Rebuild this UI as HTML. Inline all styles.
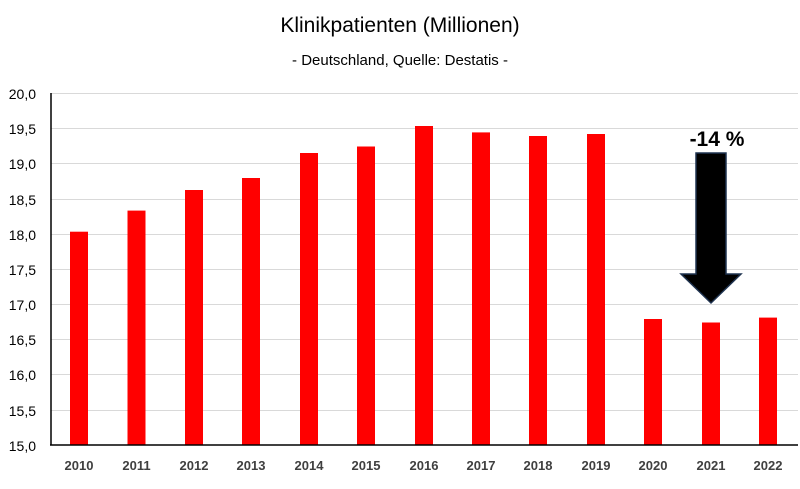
<!DOCTYPE html>
<html><head><meta charset="utf-8"><style>body{margin:0;background:#fff}</style></head>
<body>
<svg width="800" height="484" xmlns="http://www.w3.org/2000/svg" font-family="Liberation Sans, sans-serif">
<rect width="800" height="484" fill="#fff"/>
<text x="400" y="32" text-anchor="middle" font-size="21" fill="#000">Klinikpatienten (Millionen)</text>
<text x="400" y="65" text-anchor="middle" font-size="15" fill="#000">- Deutschland, Quelle: Destatis -</text>
<g stroke="#d9d9d9" stroke-width="1">
<line x1="51" x2="798" y1="93.5" y2="93.5"/><line x1="51" x2="798" y1="128.5" y2="128.5"/>
<line x1="51" x2="798" y1="163.5" y2="163.5"/><line x1="51" x2="798" y1="199.5" y2="199.5"/>
<line x1="51" x2="798" y1="234.5" y2="234.5"/><line x1="51" x2="798" y1="269.5" y2="269.5"/>
<line x1="51" x2="798" y1="304.5" y2="304.5"/><line x1="51" x2="798" y1="339.5" y2="339.5"/>
<line x1="51" x2="798" y1="374.5" y2="374.5"/><line x1="51" x2="798" y1="410.5" y2="410.5"/>
</g>
<g font-size="14" fill="#000" text-anchor="end">
<text x="36" y="99">20,0</text><text x="36" y="134">19,5</text><text x="36" y="169">19,0</text>
<text x="36" y="205">18,5</text><text x="36" y="240">18,0</text><text x="36" y="275">17,5</text>
<text x="36" y="310">17,0</text><text x="36" y="345">16,5</text><text x="36" y="380">16,0</text>
<text x="36" y="416">15,5</text><text x="36" y="451">15,0</text>
</g>
<g fill="#ff0000">
<rect x="70" y="231.7" width="18" height="213.3"/>
<rect x="127.5" y="210.6" width="18" height="234.4"/>
<rect x="185" y="190" width="18" height="255"/>
<rect x="242" y="178" width="18" height="267"/>
<rect x="300" y="153" width="18" height="292"/>
<rect x="357" y="146.5" width="18" height="298.5"/>
<rect x="415" y="126" width="18" height="319"/>
<rect x="472" y="132.4" width="18" height="312.6"/>
<rect x="529" y="136" width="18" height="309"/>
<rect x="587" y="134" width="18" height="311"/>
<rect x="644" y="319" width="18" height="126"/>
<rect x="702" y="322.5" width="18" height="122.5"/>
<rect x="759" y="317.6" width="18" height="127.4"/>
</g>
<line x1="51" x2="51" y1="93" y2="445" stroke="#000" stroke-width="1.5"/>
<line x1="50" x2="798" y1="445" y2="445" stroke="#000" stroke-width="1.5"/>
<g font-size="13" font-weight="bold" fill="#404040" text-anchor="middle">
<text x="79" y="470">2010</text><text x="136.5" y="470">2011</text><text x="194" y="470">2012</text>
<text x="251" y="470">2013</text><text x="309" y="470">2014</text><text x="366" y="470">2015</text>
<text x="424" y="470">2016</text><text x="481" y="470">2017</text><text x="538" y="470">2018</text>
<text x="596" y="470">2019</text><text x="653" y="470">2020</text><text x="711" y="470">2021</text>
<text x="768" y="470">2022</text>
</g>
<polygon points="696,153 726,153 726,274 741,274 711,303 681,274 696,274" fill="#000" stroke="#1f3350" stroke-width="1.5"/>
<text x="717" y="146" text-anchor="middle" font-size="21" font-weight="bold" fill="#000">-14 %</text>
</svg>
</body></html>
